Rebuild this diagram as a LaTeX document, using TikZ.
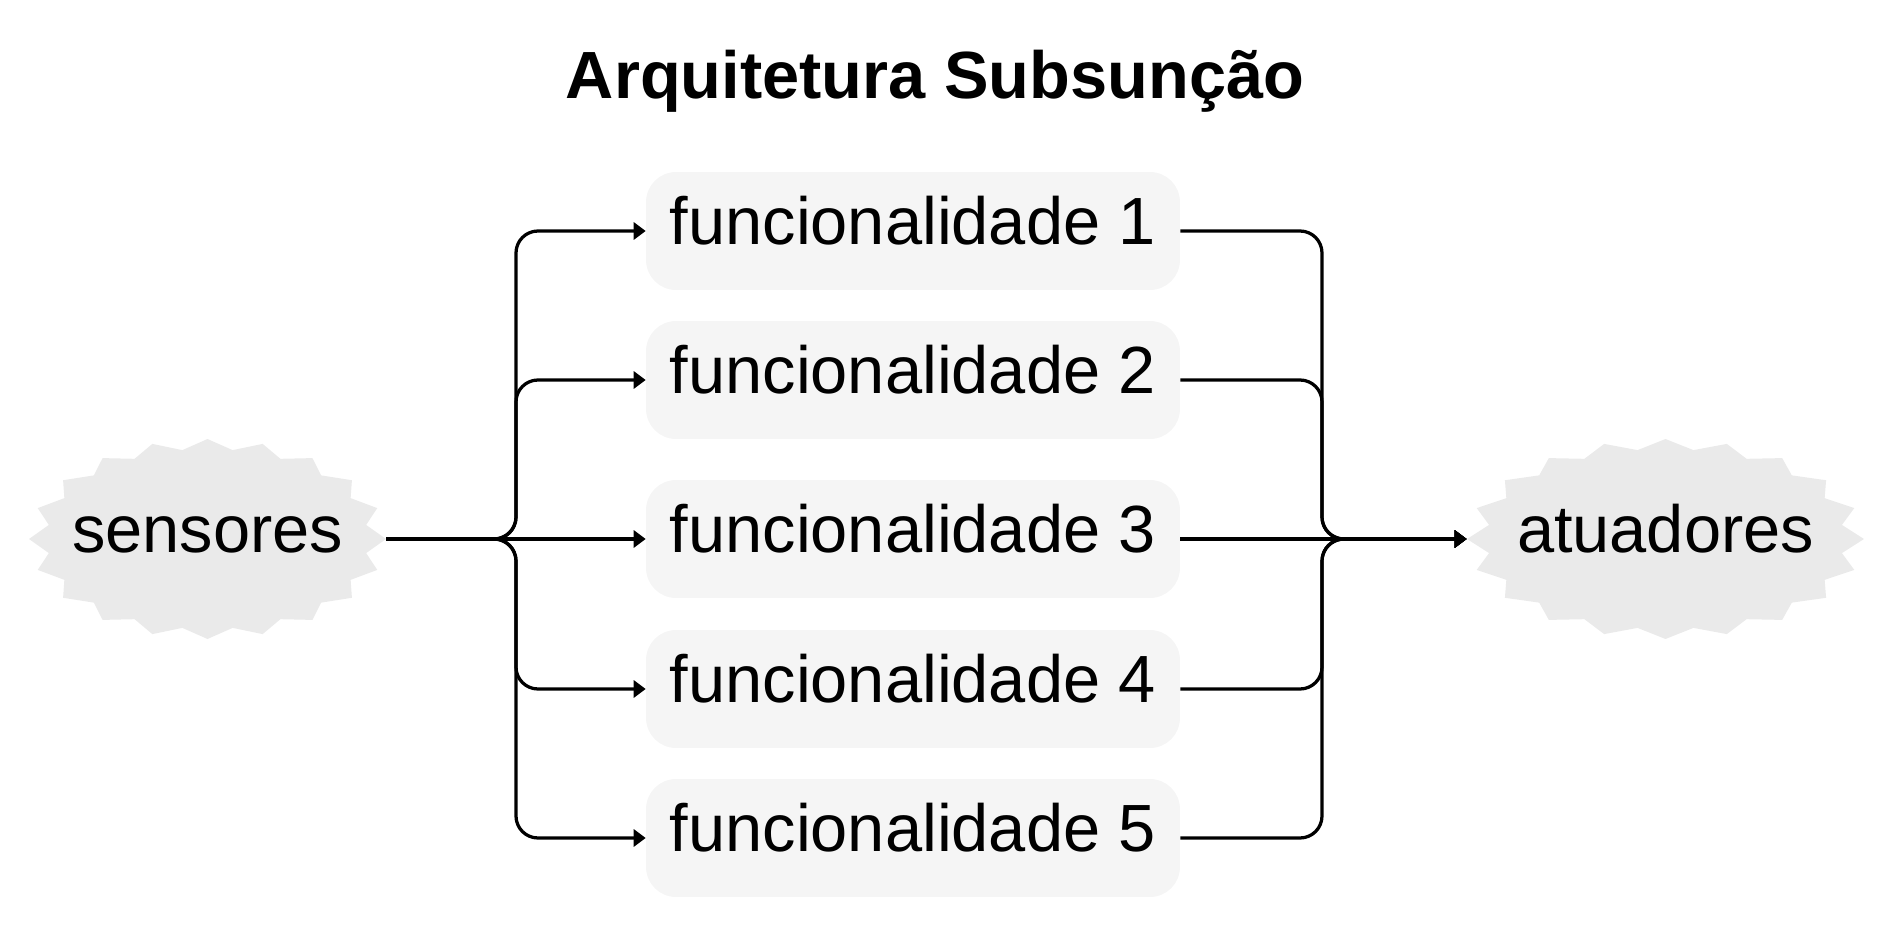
\documentclass[tikz,border=0pt]{standalone}
\usepackage{fontspec}
\setmainfont{Liberation Sans}
\usepackage{tikz}
\usetikzlibrary{backgrounds}
\usetikzlibrary{arrows.meta}
\definecolor{boxgray}{HTML}{F5F5F5}
\definecolor{burstgray}{HTML}{EAEAEA}
\tikzset{mybox/.style={fill=boxgray, rounded corners=0.6cm, inner sep=0pt, minimum width=10.68cm, minimum height=2.36cm, text height=0.96cm, text depth=0.44cm, font=\fontsize{38}{46}\selectfont}}
\tikzset{myburst/.style={inner sep=0pt, minimum height=4cm, text height=0.96cm, text depth=0.44cm, font=\fontsize{38}{46}\selectfont}}
\tikzset{myarrow/.style={line width=0.065cm, rounded corners=0.44cm, -{Triangle[length=0.24cm, width=0.34cm]}}}

\begin{document}
\begin{tikzpicture}[x=0.02cm, y=-0.02cm]
\useasboundingbox (0,0) rectangle (1898,933);

\node[anchor=base, font=\fontsize{38}{46}\selectfont\bfseries] (title) at (935, 98) {Arquitetura Subsunção};

\node[myburst, minimum width=7.14cm] (sens) at (207.5, 539) {sensores};
\node[myburst, minimum width=7.94cm] (atu) at (1665.5, 539) {atuadores};

\node[mybox] (f1) at (913, 231) {funcionalidade 1};
\node[mybox] (f2) at (913, 380) {funcionalidade 2};
\node[mybox] (f3) at (913, 539) {funcionalidade 3};
\node[mybox] (f4) at (913, 689) {funcionalidade 4};
\node[mybox] (f5) at (913, 838) {funcionalidade 5};

\coordinate (split) at (516, 539);
\coordinate (merge) at (1322, 539);

% star shapes behind the two end nodes
\begin{scope}[on background layer]
\fill[burstgray, shift={(sens.center)}] plot[variable=\k, samples at={0,...,39}] ({cos(9*\k)*178.5*(1-0.1*mod(\k,2))}, {sin(9*\k)*100*(1-0.1*mod(\k,2))}) -- cycle;
\fill[burstgray, shift={(atu.center)}] plot[variable=\k, samples at={0,...,39}] ({cos(9*\k)*198.5*(1-0.1*mod(\k,2))}, {sin(9*\k)*100*(1-0.1*mod(\k,2))}) -- cycle;
\end{scope}

\draw[myarrow] (sens.east) -- (split) |- (f1.west);
\draw[myarrow] (sens.east) -- (split) |- (f2.west);
\draw[myarrow] (sens.east) -- (f3.west);
\draw[myarrow] (sens.east) -- (split) |- (f4.west);
\draw[myarrow] (sens.east) -- (split) |- (f5.west);

\draw[myarrow] (f1.east) -| (merge) -- (atu.west);
\draw[myarrow] (f2.east) -| (merge) -- (atu.west);
\draw[myarrow] (f3.east) -- (atu.west);
\draw[myarrow] (f4.east) -| (merge) -- (atu.west);
\draw[myarrow] (f5.east) -| (merge) -- (atu.west);

\end{tikzpicture}
\end{document}
